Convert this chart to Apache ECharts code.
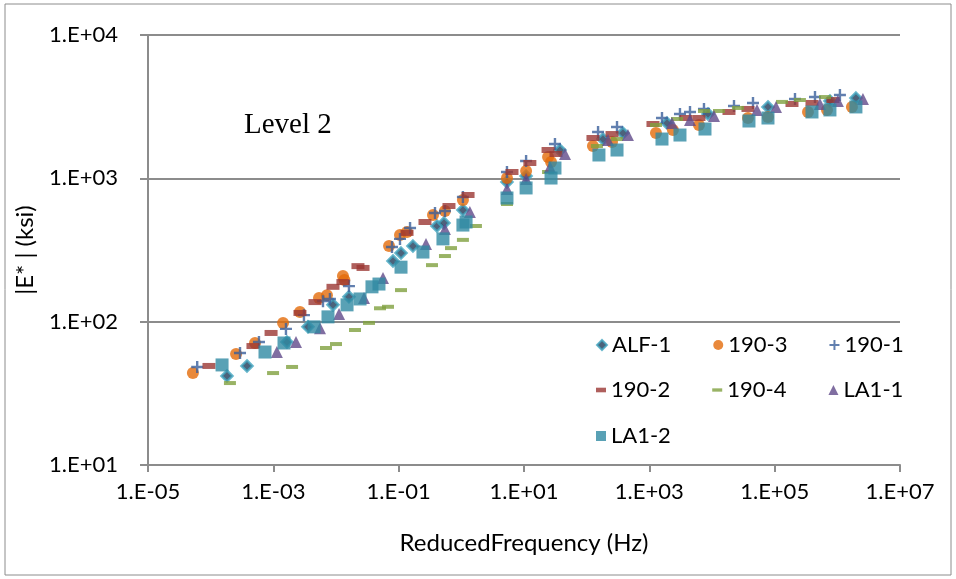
<!DOCTYPE html>
<html>
<head>
<meta charset="utf-8">
<title>Level 2 |E*|</title>
<script src="https://cdn.jsdelivr.net/npm/echarts@6.0.0/dist/echarts.min.js"></script>
<style>
    html, body {margin: 0; padding: 0; background: #fff;}
    #main {width: 956px; height: 579px;}
</style>
</head>
<body>
<div id="main"></div>
<script>
// 图例名称
var seriesNames = ['ALF-1', '190-3', '190-1', '190-2', '190-4', 'LA1-1', 'LA1-2'];
// 坐标轴刻度（指数）
var xTickExp = [-5, -3, -1, 1, 3, 5, 7];
var yTickExp = [1, 2, 3, 4];

// [reduced frequency (Hz), |E*| (ksi)]
var alf1 = [[1.82e-4, 41.8], [3.8e-4, 49.1], [1.65e-3, 72.1], [3.57e-3, 92], [8.95e-3, 131], [0.0161, 149],
    [0.0811, 265], [0.109, 301], [0.169, 337], [0.408, 465], [0.528, 488], [1.06, 601],
    [5.35, 943], [10.8, 1038], [37.5, 1576], [182, 1880], [379, 2070],
    [1914, 2432], [8630, 2812], [78200, 3148], [762000, 3467], [1.98e6, 3631]];
var s1903 = [[5.2e-5, 43.8], [2.54e-4, 59.4], [5.1e-4, 71], [1.43e-3, 98], [2.66e-3, 117], [5.36e-3, 146],
    [7.18e-3, 153], [0.0129, 208], [0.0136, 195], [0.0702, 337], [0.105, 403], [0.136, 423],
    [0.353, 555], [0.548, 592], [1.06, 706], [5.35, 1005], [10.8, 1125], [24.2, 1408], [27.0, 1300],
    [126, 1681], [254, 1792], [1276, 2070], [2380, 2173], [6194, 2355], [37500, 2636], [78200, 2679],
    [340000, 2904], [684000, 3000], [1.71e6, 3148]];
var s1901 = [[6.1e-5, 48.3], [2.94e-4, 60.4], [5.9e-4, 72.1], [1.59e-3, 89], [3.08e-3, 111], [6.2e-3, 139],
    [8.0e-3, 144], [0.0161, 177], [0.0782, 332], [0.105, 378], [0.152, 450], [0.380, 573], [0.548, 592],
    [1.06, 741], [5.35, 1107], [10.8, 1321], [31.2, 1737], [152, 2104], [305, 2280],
    [1592, 2636], [3083, 2812], [4456, 2904], [7447, 3048], [22440, 3199], [45100, 3356],
    [211000, 3575], [440000, 3690], [1.10e6, 3811]];
var s1902 = [[9.4e-5, 49.1], [4.73e-4, 67.6], [9.2e-4, 83.4], [2.66e-3, 115], [4.62e-3, 137], [8.95e-3, 175],
    [0.0129, 189], [0.0224, 244], [0.0270, 237], [0.136, 416], [0.263, 496], [0.635, 641], [1.28, 765],
    [6.43, 1107], [12.4, 1279], [24.2, 1576], [32.4, 1478], [126, 1911], [254, 2037],
    [1143, 2393], [3846, 2636], [6194, 2636], [18660, 2904], [37500, 3048],
    [189000, 3302], [394000, 3356], [851000, 3518]];
var s1904 = [[2.03e-4, 37.3], [9.9e-4, 43.8], [1.99e-3, 48.3], [6.92e-3, 65.5], [0.0100, 69.8], [0.0201, 87.5],
    [0.0336, 98], [0.0504, 124], [0.0676, 127], [0.109, 166], [0.340, 248], [0.548, 287], [0.684, 326],
    [1.06, 372], [1.71, 465], [5.35, 662], [24.2, 1107], [146, 1681], [305, 1880],
    [1276, 2355], [2761, 2594], [7447, 2951], [12920, 2951], [25950, 3097],
    [131000, 3412], [253000, 3518], [635000, 3690]];
var la11 = [[1.14e-3, 61.4], [2.3e-3, 72.1], [5.56e-3, 90], [0.0112, 113], [0.0280, 146], [0.0562, 202],
    [0.273, 348], [0.548, 443], [1.37, 582], [5.35, 843], [10.8, 989], [26.0, 1199], [45.1, 1478],
    [219, 1850], [456, 2005], [2297, 2432], [4456, 2553], [10770, 2723], [52200, 3000], [105000, 3148],
    [528000, 3302], [1.02e6, 3467], [2.56e6, 3575]];
var la12 = [[1.52e-4, 49.9], [7.36e-4, 61.4], [1.48e-3, 71.0], [4.46e-3, 92], [7.45e-3, 108], [0.0150, 131],
    [0.0242, 144], [0.0375, 175], [0.0485, 183], [0.109, 240], [0.244, 306], [0.509, 378], [1.06, 472],
    [1.19, 496], [5.35, 729], [10.8, 857], [27.0, 1005], [31.2, 1180], [157, 1455], [305, 1576],
    [1592, 1880], [3083, 2005], [7726, 2208], [38900, 2512], [78200, 2636],
    [394000, 2904], [762000, 3000], [1.98e6, 3148]];

var seriesData = [alf1, s1903, s1901, s1902, s1904, la11, la12];

// 标记样式
var markStyles = [
    {symbol: 'diamond', size: 11, item: {color: '#1f3c5a', borderColor: '#41a5bf', borderWidth: 2.5}},
    {symbol: 'circle', size: 12, item: {color: '#e46c0a'}},
    {symbol: 'path://M4,0h2v4h4v2h-4v4h-2v-4h-4v-2h4z', size: 12, item: {color: '#3a5f9b'}},
    {symbol: 'path://M0,0h13v6h-13z', size: [13, 6], item: {color: '#9b3733'}},
    {symbol: 'path://M0,0h12v4h-12z', size: [12, 4], item: {color: '#80a03e'}},
    {symbol: 'triangle', size: 12, item: {color: '#604a8a'}},
    {symbol: 'rect', size: 13, item: {color: '#2f8aa2'}}
];

var axisGrey = '#8c8c8c';
var labelFont = 'Lato, "Open Sans", sans-serif';

function expLabel(e) {
    var a = Math.abs(e);
    return '1.E' + (e < 0 ? '-' : '+') + (a < 10 ? '0' + a : a);
}

var series = [];
for (var i = 0; i < seriesNames.length; i++) {
    series.push({
        name: seriesNames[i],
        type: 'scatter',
        xAxisIndex: 0,
        symbol: markStyles[i].symbol,
        symbolSize: markStyles[i].size,
        itemStyle: markStyles[i].item,
        emphasis: {disabled: true},
        data: seriesData[i]
    });
}

function legendRow(names, top) {
    return {
        data: names,
        left: 596,
        top: top,
        padding: 0,
        orient: 'horizontal',
        itemWidth: 10,
        itemHeight: 10,
        itemGap: 42,
        selectedMode: false,
        textStyle: {fontFamily: labelFont, fontSize: 22, color: '#000'}
    };
}

var xSpan = xTickExp[xTickExp.length - 1] - xTickExp[0];

var option = {
    animation: false,
    backgroundColor: '#fff',
    grid: {left: 148, right: 56, top: 35, bottom: 114},
    title: {
        text: 'Level 2',
        left: 244,
        top: 111,
        padding: 0,
        textStyle: {fontFamily: '"Liberation Serif", "DejaVu Serif", serif', fontSize: 29, fontWeight: 'normal', color: '#000'}
    },
    legend: [
        legendRow(seriesNames.slice(0, 3), 334),
        legendRow(seriesNames.slice(3, 6), 379),
        legendRow(seriesNames.slice(6), 425)
    ],
    xAxis: [{
        // 数据所用的对数轴
        type: 'log',
        logBase: 10,
        min: Math.pow(10, xTickExp[0]),
        max: Math.pow(10, xTickExp[xTickExp.length - 1]),
        name: 'ReducedFrequency (Hz)',
        nameLocation: 'middle',
        nameGap: 66,
        nameTextStyle: {fontFamily: labelFont, fontSize: 24, color: '#000'},
        axisLine: {lineStyle: {color: axisGrey, width: 2}},
        axisTick: {show: false},
        splitLine: {show: false},
        axisLabel: {show: false}
    }, {
        // 每两个数量级一个刻度和标签（以指数计，从0起）
        type: 'value',
        position: 'bottom',
        min: 0,
        max: xSpan,
        interval: 2,
        axisLine: {show: false},
        splitLine: {show: false},
        axisTick: {show: true, length: 7, lineStyle: {color: axisGrey, width: 2}},
        axisLabel: {
            margin: 16,
            fontFamily: labelFont,
            fontSize: 22,
            color: '#000',
            formatter: function (v) {
                return expLabel(Math.round(v) + xTickExp[0]);
            }
        }
    }],
    yAxis: {
        type: 'log',
        logBase: 10,
        min: Math.pow(10, yTickExp[0]),
        max: Math.pow(10, yTickExp[yTickExp.length - 1]),
        name: '|E* | (ksi)',
        nameLocation: 'middle',
        nameGap: 111,
        nameTextStyle: {fontFamily: labelFont, fontSize: 24, color: '#000'},
        axisLine: {show: true, lineStyle: {color: axisGrey, width: 2}},
        axisTick: {show: true, length: 8, lineStyle: {color: axisGrey, width: 2}},
        splitLine: {show: true, lineStyle: {color: axisGrey, width: 2}},
        axisLabel: {
            margin: 30,
            fontFamily: labelFont,
            fontSize: 22,
            color: '#000',
            formatter: function (v) {
                return expLabel(Math.round(Math.log10(v)));
            }
        }
    },
    graphic: [{
        type: 'rect',
        shape: {x: 5, y: 4, width: 946, height: 571},
        style: {fill: 'none', stroke: '#8c8c8c', lineWidth: 1},
        silent: true,
        z: -1
    }],
    series: series
};

var myChart = echarts.init(document.getElementById('main'));
myChart.setOption(option);
</script>
</body>
</html>
